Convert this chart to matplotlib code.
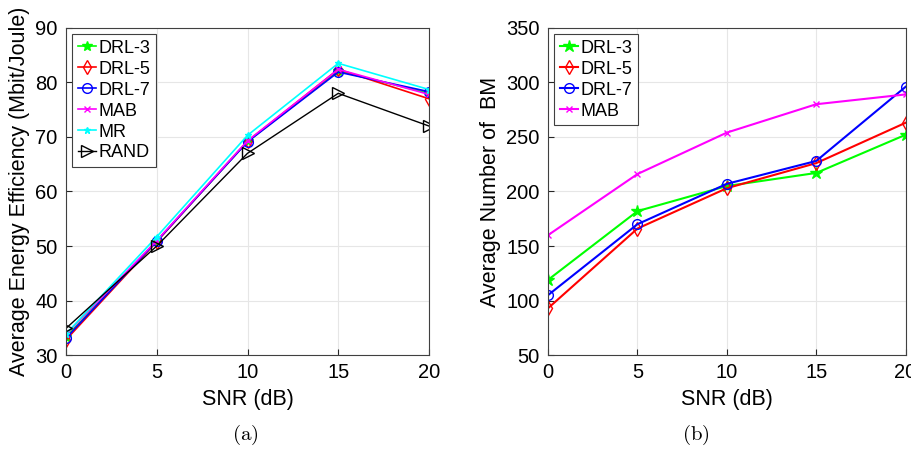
import matplotlib.pyplot as plt

plt.rcParams['font.family'] = ['Liberation Sans', 'DejaVu Sans']
plt.rcParams['mathtext.fontset'] = 'cm'

"""DATA"""
snr = [0, 5, 10, 15, 20]

# (a) energy efficiency
ee_drl3 = [33.3, 50.9, 69.2, 82.1, 78.0]
ee_drl5 = [32.8, 50.8, 69.2, 82.4, 77.0]
ee_drl7 = [33.1, 50.9, 69.1, 81.9, 78.3]
ee_mab = [33.8, 51.0, 69.3, 82.4, 77.8]
ee_mr = [33.9, 51.7, 70.3, 83.5, 78.7]
ee_rand = [34.9, 50.0, 67.0, 78.0, 72.0]

# (b) average number of BM
bm_drl3 = [119, 182, 205, 217, 252]
bm_drl5 = [93, 166, 203, 226, 263]
bm_drl7 = [105, 170, 207, 228, 296]
bm_mab = [160, 216, 254, 280, 289]

fig = plt.figure(figsize=(9.12, 4.5), dpi=100)
ax1 = fig.add_axes([0.0724, 0.211, 0.398, 0.727])
ax2 = fig.add_axes([0.601, 0.211, 0.392, 0.727])

"""SUBPLOT (a)"""
ax1.plot(snr, ee_drl3, color='#00ff00', marker='*', ms=7, lw=1.2, label='DRL-3')
ax1.plot(snr, ee_drl5, color='#ff0000', marker='d', ms=7, mfc='none', lw=1.2, label='DRL-5')
ax1.plot(snr, ee_drl7, color='#0000ff', marker='o', ms=7, mfc='none', lw=1.2, label='DRL-7')
ax1.plot(snr, ee_mab, color='#ff00ff', marker='x', ms=4, lw=1.2, label='MAB')
ax1.plot(snr, ee_mr, color='#00ffff', marker='*', ms=5, lw=1.2, label='MR')
ax1.plot(snr, ee_rand, color='k', marker='>', ms=8, mfc='none', lw=1.0, label='RAND')
ax1.set_xlim(0, 20)
ax1.set_ylim(30, 90)
ax1.set_xticks([0, 5, 10, 15, 20])
ax1.set_yticks([30, 40, 50, 60, 70, 80, 90])
ax1.set_xlabel('SNR (dB)', fontsize=15.5, labelpad=5)
ax1.set_ylabel('Average Energy Efficiency (Mbit/Joule)', fontsize=15.5, labelpad=4)

"""SUBPLOT (b)"""
ax2.plot(snr, bm_drl3, color='#00ff00', marker='*', ms=9, lw=1.5, label='DRL-3')
ax2.plot(snr, bm_drl5, color='#ff0000', marker='d', ms=7, mfc='none', lw=1.5, label='DRL-5')
ax2.plot(snr, bm_drl7, color='#0000ff', marker='o', ms=7, mfc='none', lw=1.5, label='DRL-7')
ax2.plot(snr, bm_mab, color='#ff00ff', marker='x', ms=4, lw=1.5, label='MAB')
ax2.set_xlim(0, 20)
ax2.set_ylim(50, 350)
ax2.set_xticks([0, 5, 10, 15, 20])
ax2.set_yticks([50, 100, 150, 200, 250, 300, 350])
ax2.set_xlabel('SNR (dB)', fontsize=15.5, labelpad=5)
ax2.set_ylabel('Average Number of  BM', fontsize=15.5, labelpad=4)

for ax in (ax1, ax2):
    ax.grid(True, color='#e6e6e6', lw=0.8)
    ax.set_axisbelow(True)
    ax.tick_params(direction='in', labelsize=14.5, color='#262626', length=4, pad=6)
    for sp in ax.spines.values():
        sp.set_color('#404040')
        sp.set_linewidth(0.8)
    leg = ax.legend(loc='upper left', fontsize=13, handlelength=1.0,
                    handletextpad=0.15, labelspacing=0.22, borderpad=0.3,
                    fancybox=False, framealpha=1, borderaxespad=0.35)
    leg.get_frame().set_edgecolor('#404040')
    leg.get_frame().set_linewidth(0.8)

fig.text(0.269, 0.033, r'$\mathrm{(a)}$', fontsize=15, ha='center', va='center')
fig.text(0.763, 0.033, r'$\mathrm{(b)}$', fontsize=15, ha='center', va='center')

fig.savefig('out.png', dpi=100)
